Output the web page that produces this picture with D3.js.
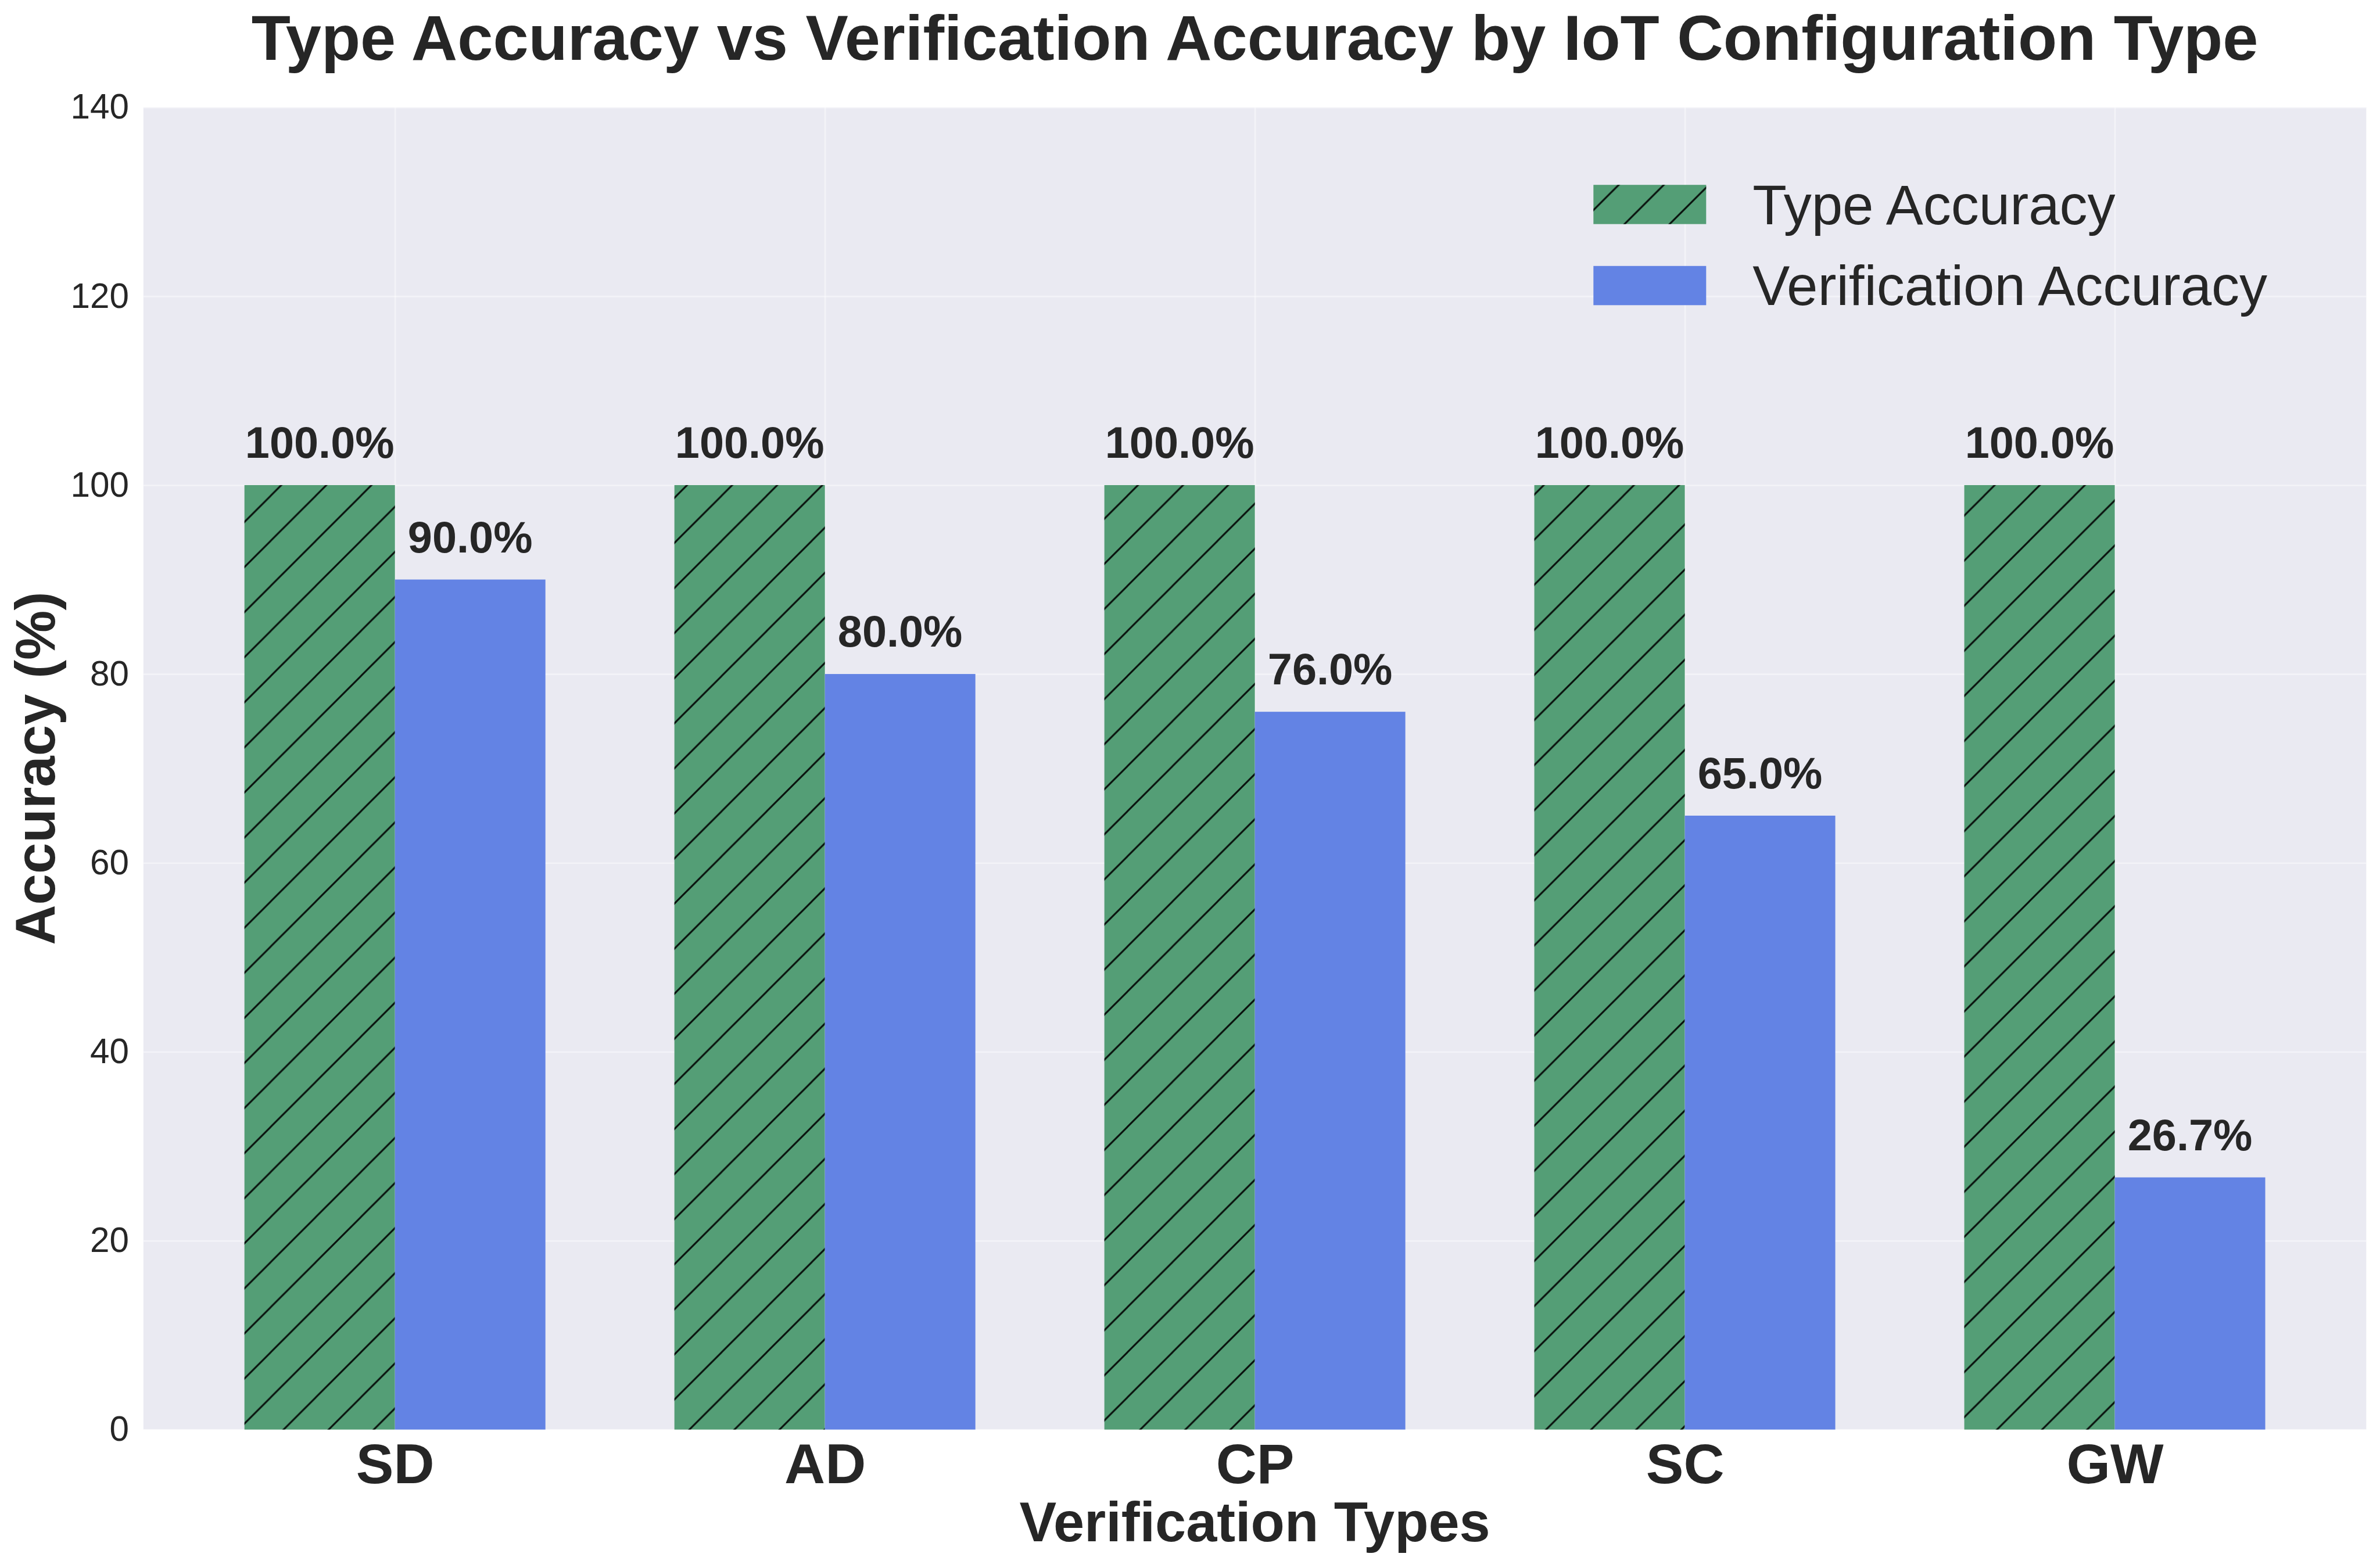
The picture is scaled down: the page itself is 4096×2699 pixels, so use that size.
<!DOCTYPE html>
<html><head><meta charset="utf-8">
<script src="https://cdn.jsdelivr.net/npm/d3@7"></script>
<style>html,body{margin:0;padding:0;background:#fff;} svg{display:block;}</style>
</head><body>
<svg id="chart" width="4096" height="2699"></svg>
<script>
// ---- data ----
const categories = ["SD", "AD", "CP", "SC", "GW"];
const typeAccuracy = [100.0, 100.0, 100.0, 100.0, 100.0];
const verificationAccuracy = [90.0, 80.0, 76.0, 65.0, 26.7];
const yTickValues = [0, 20, 40, 60, 80, 100, 120, 140];
const seriesNames = ["Type Accuracy", "Verification Accuracy"];
const titleText = "Type Accuracy vs Verification Accuracy by IoT Configuration Type";
const xLabelText = "Verification Types";
const yLabelText = "Accuracy (%)";

// ---- layout / style ----
const W = 4096, H = 2699;
const plot = {left: 246.8, right: 4072.4, top: 184.7, bottom: 2460.7};
const FONT = "'Liberation Sans', Arial, Helvetica, sans-serif";
const TEXT = "#262626";
const BG = "#EAEAF2";
const GREEN = "#549E76";
const BLUE = "#6383E4";
const barW = 0.35;
const hatchStep = 77.6;

const svg = d3.select("#chart");
svg.append("rect").attr("width", W).attr("height", H).attr("fill", "#fff");

const defs = svg.append("defs");
const pat = defs.append("pattern").attr("id", "hatch")
  .attr("patternUnits", "userSpaceOnUse")
  .attr("width", hatchStep).attr("height", hatchStep);
[[-10, 10, 10, -10], [0, hatchStep, hatchStep, 0], [hatchStep - 10, hatchStep + 10, hatchStep + 10, hatchStep - 10]]
  .forEach(([x1, y1, x2, y2]) => {
    pat.append("line").attr("x1", x1).attr("y1", y1).attr("x2", x2).attr("y2", y2)
      .attr("stroke", "#000").attr("stroke-opacity", 0.9).attr("stroke-width", 3);
  });

const x = d3.scaleLinear().domain([-0.585, categories.length - 1 + 0.585]).range([plot.left, plot.right]);
const y = d3.scaleLinear().domain([0, 140]).range([plot.bottom, plot.top]);

// axes background
svg.append("rect").attr("x", plot.left).attr("y", plot.top)
  .attr("width", plot.right - plot.left).attr("height", plot.bottom - plot.top)
  .attr("fill", BG);

// grid
const gridY = svg.append("g").attr("transform", `translate(${plot.left},0)`)
  .call(d3.axisLeft(y).tickValues(yTickValues).tickSize(-(plot.right - plot.left)).tickFormat(""));
gridY.select(".domain").remove();
gridY.selectAll("line").attr("stroke", "#fff").attr("stroke-opacity", 0.45).attr("stroke-width", 2.7);

const gridX = svg.append("g").attr("transform", `translate(0,${plot.bottom})`)
  .call(d3.axisBottom(x).tickValues(d3.range(categories.length)).tickSize(-(plot.bottom - plot.top)).tickFormat(""));
gridX.select(".domain").remove();
gridX.selectAll("line").attr("stroke", "#fff").attr("stroke-opacity", 0.45).attr("stroke-width", 2.7);

// bars
const idx = d3.range(categories.length);
const bars = svg.append("g");
bars.selectAll(".tb").data(idx).join("rect").attr("class", "tb")
  .attr("x", i => x(i - barW)).attr("width", i => x(i) - x(i - barW))
  .attr("y", i => y(typeAccuracy[i])).attr("height", i => y(0) - y(typeAccuracy[i]))
  .attr("fill", GREEN);
bars.selectAll(".th").data(idx).join("rect").attr("class", "th")
  .attr("x", i => x(i - barW)).attr("width", i => x(i) - x(i - barW))
  .attr("y", i => y(typeAccuracy[i])).attr("height", i => y(0) - y(typeAccuracy[i]))
  .attr("fill", "url(#hatch)");
bars.selectAll(".vb").data(idx).join("rect").attr("class", "vb")
  .attr("x", i => x(i)).attr("width", i => x(i + barW) - x(i))
  .attr("y", i => y(verificationAccuracy[i])).attr("height", i => y(0) - y(verificationAccuracy[i]))
  .attr("fill", BLUE);

// value labels
const vFont = 75.7;
const labels = svg.append("g").attr("font-family", FONT).attr("font-weight", "bold")
  .attr("font-size", vFont).attr("fill", TEXT).attr("text-anchor", "middle");
labels.selectAll(".tl").data(idx).join("text").attr("class", "tl")
  .attr("x", i => x(i - barW / 2)).attr("y", i => y(typeAccuracy[i] + 2) - 0.19 * vFont)
  .text(i => typeAccuracy[i].toFixed(1) + "%");
labels.selectAll(".vl").data(idx).join("text").attr("class", "vl")
  .attr("x", i => x(i + barW / 2)).attr("y", i => y(verificationAccuracy[i] + 2) - 0.19 * vFont)
  .text(i => verificationAccuracy[i].toFixed(1) + "%");

// y axis
const yAxis = svg.append("g").attr("transform", `translate(${plot.left},0)`)
  .call(d3.axisLeft(y).tickValues(yTickValues).tickSize(0).tickPadding(24.8));
yAxis.select(".domain").remove();
yAxis.selectAll("text").attr("font-family", FONT).attr("font-size", 60.2).attr("fill", TEXT);

// x axis
const xAxis = svg.append("g").attr("transform", `translate(0,${plot.bottom})`)
  .call(d3.axisBottom(x).tickValues(idx).tickFormat(i => categories[i]).tickSize(0).tickPadding(0));
xAxis.select(".domain").remove();
xAxis.selectAll("text").attr("dy", null).attr("y", 2553 - plot.bottom)
  .attr("font-family", FONT).attr("font-weight", "bold").attr("font-size", 97).attr("fill", TEXT);

// axis labels
svg.append("text").attr("x", (plot.left + plot.right) / 2).attr("y", 2653)
  .attr("text-anchor", "middle").attr("font-family", FONT).attr("font-weight", "bold")
  .attr("font-size", 95.5).attr("fill", TEXT).text(xLabelText);
svg.append("text").attr("transform", `translate(94,${(plot.top + plot.bottom) / 2}) rotate(-90)`)
  .attr("text-anchor", "middle").attr("font-family", FONT).attr("font-weight", "bold")
  .attr("font-size", 96).attr("fill", TEXT).text(yLabelText);

// title
svg.append("text").attr("x", (plot.left + plot.right) / 2).attr("y", 103.2)
  .attr("text-anchor", "middle").attr("font-family", FONT).attr("font-weight", "bold")
  .attr("font-size", 110).attr("fill", TEXT).text(titleText);

// legend
const legend = svg.append("g").attr("font-family", FONT).attr("font-size", 96).attr("fill", TEXT);
const legX = 2742.3, legW = 194, legH = 67.5;
const legRows = [
  {name: seriesNames[0], top: 318.2, fills: [GREEN, "url(#hatch)"]},
  {name: seriesNames[1], top: 457.8, fills: [BLUE]}
];
legRows.forEach(r => {
  r.fills.forEach(f => legend.append("rect").attr("x", legX).attr("y", r.top)
    .attr("width", legW).attr("height", legH).attr("fill", f));
  legend.append("text").attr("x", 3016.3).attr("y", r.top + legH).text(r.name);
});
</script>
</body></html>
